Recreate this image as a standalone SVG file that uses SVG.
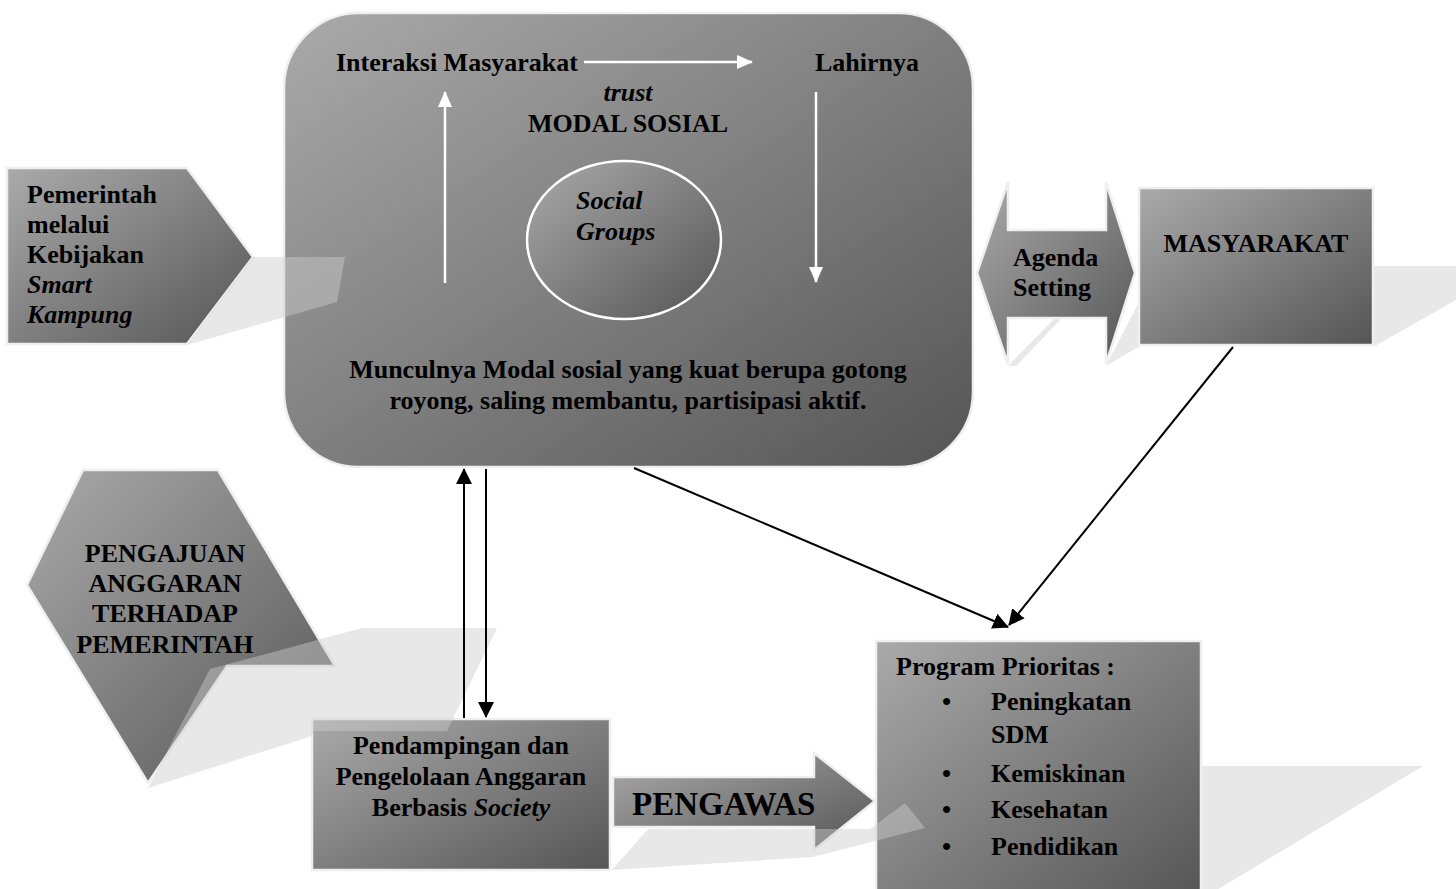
<svg xmlns="http://www.w3.org/2000/svg" width="1456" height="889" viewBox="0 0 1456 889">
<defs>
<linearGradient id="g" x1="0" y1="0" x2="1" y2="1">
<stop offset="0" stop-color="#aaaaaa"/>
<stop offset="1" stop-color="#555555"/>
</linearGradient>
<marker id="ah" viewBox="0 0 16 16" refX="15" refY="8" markerWidth="16" markerHeight="16" markerUnits="userSpaceOnUse" orient="auto">
<path d="M0,0 L16,8 L0,16 Z" fill="#000"/>
</marker>
<marker id="wh" viewBox="0 0 16 14" refX="15" refY="7" markerWidth="16" markerHeight="14" markerUnits="userSpaceOnUse" orient="auto">
<path d="M0,0 L16,7 L0,14 Z" fill="#fff"/>
</marker>
</defs>
<style>
.shape{fill:url(#g);stroke:#efefef;stroke-width:2.5}
.sh{fill:#cccccc;fill-opacity:0.45}
.t{font-family:"Liberation Serif","Times New Roman",serif;font-weight:bold;font-size:26px;fill:#000}
.c{text-anchor:middle}
.i{font-style:italic}
.wl{stroke:#fff;stroke-width:2.5;fill:none}
.bl{stroke:#000;stroke-width:2;fill:none}
</style>
<rect width="1456" height="889" fill="#fff"/>

<g id="shadows-back">
<polygon class="sh" points="1201,766 1423,766 1200,900"/>
<polygon class="sh" points="1373,266 1456,266 1456,300 1373,347"/>
<polygon class="sh" points="1008,366 1055,318 1062,318 1016,366"/>
<polygon class="sh" points="1106,366 1140,300 1140,346"/>
</g>

<g id="main">
<rect class="shape" x="284" y="13" width="689" height="454" rx="75" ry="75"/>
<text class="t" x="336" y="71">Interaksi Masyarakat</text>
<text class="t" x="815" y="71">Lahirnya</text>
<text class="t c i" x="628" y="101">trust</text>
<text class="t c" x="628" y="132">MODAL SOSIAL</text>
<line class="wl" x1="584" y1="62" x2="752" y2="62" marker-end="url(#wh)"/>
<line class="wl" x1="445" y1="283" x2="445" y2="92" marker-end="url(#wh)"/>
<line class="wl" x1="816" y1="92" x2="816" y2="282" marker-end="url(#wh)"/>
<text class="t c" x="628" y="378">Munculnya Modal sosial yang kuat berupa gotong</text>
<text class="t c" x="628" y="409">royong, saling membantu, partisipasi aktif.</text>
</g>

<g id="social-groups">
<ellipse cx="624" cy="240" rx="97" ry="79" fill="url(#g)" stroke="#fff" stroke-width="2.5"/>
<text class="t i" x="576" y="209">Social</text>
<text class="t i" x="576" y="240">Groups</text>
</g>

<g id="pemerintah">
<polygon class="shape" points="7,168 187,168 253,257 187,344 7,344"/>
<polygon class="sh" points="187,345 253,257 345,257 337,302"/>
<text class="t" x="27" y="203">Pemerintah</text>
<text class="t" x="27" y="233">melalui</text>
<text class="t" x="27" y="263">Kebijakan</text>
<text class="t i" x="27" y="293">Smart</text>
<text class="t i" x="27" y="323">Kampung</text>
</g>

<g id="agenda">
<polygon class="shape" points="977,273 1008,182 1008,230 1106,230 1106,182 1135,273 1106,364 1106,318 1008,318 1008,364"/>
<text class="t" x="1013" y="266">Agenda</text>
<text class="t" x="1013" y="296">Setting</text>
</g>

<g id="masyarakat">
<rect class="shape" x="1139" y="188" width="234" height="157"/>
<text class="t c" x="1256" y="252">MASYARAKAT</text>
</g>

<g id="pengajuan">
<polygon class="shape" points="83,470 218,470 335,666 227,666 148,783 27,585"/>
<text class="t c" x="165" y="562">PENGAJUAN</text>
<text class="t c" x="165" y="592">ANGGARAN</text>
<text class="t c" x="165" y="622">TERHADAP</text>
<text class="t c" x="165" y="653">PEMERINTAH</text>
</g>

<g id="pendampingan">
<rect class="shape" x="312" y="719" width="298" height="151"/>
<text class="t c" x="461" y="754">Pendampingan dan</text>
<text class="t c" x="461" y="785">Pengelolaan Anggaran</text>
<text class="t c" x="461" y="816">Berbasis <tspan class="i">Society</tspan></text>
</g>
<polygon class="sh" points="148,788 210,669 362,628 497,628 447,731 313,731 312,736"/>

<g id="program">
<rect class="shape" x="876" y="641" width="325" height="260"/>
<text class="t" x="896" y="675">Program Prioritas :</text>
<text class="t" x="942" y="710">•</text>
<text class="t" x="991" y="710">Peningkatan</text>
<text class="t" x="991" y="743">SDM</text>
<text class="t" x="942" y="782">•</text>
<text class="t" x="991" y="782">Kemiskinan</text>
<text class="t" x="942" y="818">•</text>
<text class="t" x="991" y="818">Kesehatan</text>
<text class="t" x="942" y="855">•</text>
<text class="t" x="991" y="855">Pendidikan</text>
</g>

<g id="pengawas">
<polygon class="shape" points="613,777 814,777 814,753 875,801 814,850 814,827 613,827"/>
<polygon class="sh" points="612,870 648,829 870,829 905,803 925,828 813,857"/>
<text class="t" x="632" y="815" style="font-size:33px">PENGAWAS</text>
</g>

<g id="connectors">
<line class="bl" x1="464" y1="718" x2="464" y2="469" marker-end="url(#ah)"/>
<line class="bl" x1="486" y1="469" x2="486" y2="717" marker-end="url(#ah)"/>
<line class="bl" x1="634" y1="468" x2="1008" y2="627" marker-end="url(#ah)"/>
<line class="bl" x1="1233" y1="347" x2="1009" y2="625" marker-end="url(#ah)"/>
</g>
</svg>
